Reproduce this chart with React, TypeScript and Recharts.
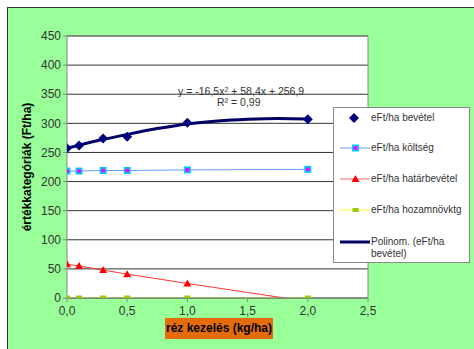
import React from 'react'
import { ComposedChart, Line, XAxis, YAxis, CartesianGrid, ReferenceLine, Label } from 'recharts'

const doses = [0, 0.1, 0.3, 0.5, 1.0, 2.0]
const bevetel = [257, 262, 274, 277, 301, 307]
const koltseg = [218, 218, 219, 219, 220, 221]
const hatarbevetel = [58, 55, 48, 41, 25, -6]
const hozamnovktg = [0, 0, 0, 0, 0, 0]

// trendline
const trendX = [0, 0.25, 0.5, 0.75, 1.0, 1.25, 1.5, 1.75, 2.0]
const trendY = [257, 270, 281, 291, 299, 304, 307, 308.5, 307.5]

const xTicks = [0, 0.5, 1.0, 1.5, 2.0, 2.5]
const yTicks = [0, 50, 100, 150, 200, 250, 300, 350, 400, 450]

const rows = doses.map((d, i) => ({
  x: d,
  bevetel: bevetel[i],
  koltseg: koltseg[i],
  hatar: hatarbevetel[i],
  hozam: hozamnovktg[i],
}))
const trendRows = trendX.map((x, i) => ({ x, trend: trendY[i] }))

const font = '"Liberation Sans", Arial, sans-serif'
const fmt = (v: number) => v.toFixed(1).replace('.', ',')

const Diamond = (p: any) => {
  const { cx, cy } = p
  if (cx == null || cy == null) return null
  return <path key={`d${cx}`} d={`M${cx},${cy - 5} L${cx + 5},${cy} L${cx},${cy + 5} L${cx - 5},${cy} Z`} fill="#000080" />
}
const CostSquare = (p: any) => {
  const { cx, cy } = p
  if (cx == null || cy == null) return null
  return (
    <g key={`s${cx}`}>
      <rect x={cx - 3.5} y={cy - 3.5} width={7} height={7} fill="#00ccff" />
      <rect x={cx - 1.8} y={cy - 1.8} width={3.6} height={3.6} fill="#ff00ff" />
    </g>
  )
}
const Triangle = (p: any) => {
  const { cx, cy } = p
  if (cx == null || cy == null || cy > 300) return null
  return <path key={`t${cx}`} d={`M${cx},${cy - 4} L${cx + 4},${cy + 3} L${cx - 4},${cy + 3} Z`} fill="#ff0000" />
}
const SmallSquare = (p: any) => {
  const { cx, cy } = p
  if (cx == null || cy == null) return null
  return <rect key={`q${cx}`} x={cx - 3} y={cy - 2.5} width={6} height={5} fill="#99cc00" />
}

const legendItems = [
  { label: 'eFt/ha bevétel', y: 117 },
  { label: 'eFt/ha költség', y: 147 },
  { label: 'eFt/ha határbevétel', y: 178 },
  { label: 'eFt/ha hozamnövktg', y: 209 },
  { label: 'Polinom. (eFt/ha', y: 241 },
]

function LegendBox() {
  return (
    <div style={{ position: 'absolute', left: 333, top: 107, width: 135, height: 154, background: '#fff', border: '1px solid #888', fontFamily: font, fontSize: 10, color: '#333' }}>
      <svg width={135} height={154} style={{ position: 'absolute', left: 0, top: 0 }}>
        <path d="M20,5 L25,10 L20,15 L15,10 Z" fill="#000080" />
        <line x1={6} x2={36} y1={40} y2={40} stroke="#6699ff" strokeWidth={1} />
        <rect x={18} y={36.5} width={7} height={7} fill="#00ccff" />
        <rect x={19.7} y={38.2} width={3.6} height={3.6} fill="#ff00ff" />
        <line x1={6} x2={36} y1={71} y2={71} stroke="#ff6666" strokeWidth={1} />
        <path d="M21.5,67 L25.5,74 L17.5,74 Z" fill="#ff0000" />
        <line x1={6} x2={36} y1={102} y2={102} stroke="#ffff33" strokeWidth={1} />
        <rect x={18.5} y={100} width={6} height={4} fill="#99cc00" />
        <line x1={6} x2={36} y1={134} y2={134} stroke="#000066" strokeWidth={3} />
      </svg>
      {legendItems.map(it => (
        <div key={it.label} style={{ position: 'absolute', left: 37, top: it.y - 107 - 7, whiteSpace: 'nowrap', lineHeight: '13px' }}>
          {it.label}
        </div>
      ))}
      <div style={{ position: 'absolute', left: 37, top: 253 - 107 - 7, lineHeight: '13px' }}>bevétel)</div>
    </div>
  )
}

export default function App() {
  return (
    <div style={{ position: 'absolute', left: 0, top: 0, width: 474, height: 349, overflow: 'hidden', background: '#fff' }}>
      <div style={{ position: 'absolute', left: 7, top: 7, width: 470, height: 345, background: '#99ff99', border: '1px solid #333' }} />
      <div style={{ position: 'absolute', left: 0, top: 0 }}>
        <ComposedChart width={474} height={349} data={rows} margin={{ top: 36, right: 106, bottom: 31, left: 20 }} style={{ fontFamily: font }}>
          <CartesianGrid vertical={false} stroke="#333" fill="#fff" strokeWidth={1} />
          <XAxis
            dataKey="x"
            type="number"
            domain={[0, 2.5]}
            ticks={xTicks}
            tickFormatter={fmt}
            height={20}
            tick={{ fontSize: 12, fill: '#333', dy: 2 }}
            stroke="#888"
            tickSize={4}
            allowDataOverflow
          />
          <YAxis
            type="number"
            domain={[0, 450]}
            ticks={yTicks}
            width={47}
            interval={0}
            tick={{ fontSize: 12, fill: '#333' }}
            stroke="#888"
            tickSize={4}
            allowDataOverflow
          >
            <Label value="értékkategóriák (Ft/ha)" angle={-90} position="insideLeft" offset={7} style={{ fontSize: 12, fontWeight: 'bold', fill: '#000', textAnchor: 'middle' }} />
          </YAxis>
          <ReferenceLine x={2.5} stroke="#888" />
          <ReferenceLine y={450} stroke="#888" />
          <Line dataKey="hozam" stroke="#ffff00" strokeWidth={1} dot={SmallSquare} isAnimationActive={false} />
          <Line dataKey="hatar" stroke="#ff3333" strokeWidth={1} dot={Triangle} isAnimationActive={false} />
          <Line dataKey="koltseg" stroke="#6699ff" strokeWidth={1} dot={CostSquare} isAnimationActive={false} />
          <Line data={trendRows} dataKey="trend" type="monotone" stroke="#000066" strokeWidth={3} dot={false} isAnimationActive={false} />
          <Line dataKey="bevetel" stroke="none" dot={Diamond} isAnimationActive={false} />
        </ComposedChart>
      </div>
      <div style={{ position: 'absolute', left: 178, top: 86, fontFamily: font, fontSize: 10.5, lineHeight: '11px', color: '#333', whiteSpace: 'nowrap' }}>
        y = -16,5x<span style={{ fontSize: 7, verticalAlign: 'top', lineHeight: '7px' }}>2</span> + 58,4x + 256,9
      </div>
      <div style={{ position: 'absolute', left: 217, top: 97, fontFamily: font, fontSize: 10.5, lineHeight: '11px', color: '#333', whiteSpace: 'nowrap' }}>
        R² = 0,99
      </div>
      <div style={{ position: 'absolute', left: 165, top: 318, width: 108, height: 21, background: '#e46c0a', fontFamily: font, fontSize: 12, fontWeight: 'bold', color: '#000', textAlign: 'center', lineHeight: '21px', whiteSpace: 'nowrap' }}>
        réz kezelés (kg/ha)
      </div>
      <LegendBox />
    </div>
  )
}
